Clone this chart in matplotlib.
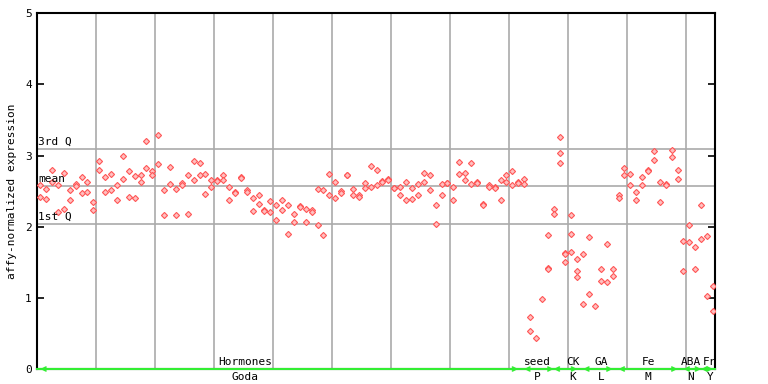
import matplotlib
matplotlib.use('Agg')
import matplotlib.pyplot as plt

# expression values per sample position (replicates)
values = [
    [2.58, 2.42], [2.53, 2.39], [2.80, 2.63], [2.58, 2.20], [2.75, 2.25],
    [2.51, 2.38], [2.60, 2.57], [2.70, 2.48], [2.63, 2.49], [2.35, 2.23],
    [2.93, 2.80], [2.70, 2.49], [2.74, 2.51], [2.58, 2.38], [2.99, 2.67],
    [2.79, 2.42], [2.71, 2.41], [2.72, 2.63], [3.21, 2.83], [2.79, 2.73],
    [3.29, 2.88], [2.52, 2.17], [2.84, 2.60], [2.53, 2.17], [2.61, 2.58],
    [2.73, 2.18], [2.93, 2.65], [2.90, 2.73], [2.74, 2.46], [2.65, 2.56],
    [2.65, 2.64], [2.73, 2.66], [2.56, 2.37], [2.49, 2.48], [2.70, 2.68],
    [2.52, 2.49], [2.41, 2.22], [2.45, 2.32], [2.24, 2.22], [2.36, 2.20],
    [2.30, 2.10], [2.37, 2.23], [2.30, 1.90], [2.18, 2.06], [2.29, 2.28],
    [2.25, 2.06], [2.23, 2.20], [2.53, 2.03], [2.52, 1.89], [2.74, 2.44],
    [2.63, 2.41], [2.50, 2.47], [2.73, 2.72], [2.53, 2.45], [2.45, 2.42],
    [2.62, 2.55], [2.86, 2.56], [2.80, 2.59], [2.64, 2.63], [2.67, 2.65],
    [2.55, 2.54], [2.56, 2.45], [2.63, 2.38], [2.55, 2.39], [2.60, 2.44],
    [2.76, 2.63], [2.73, 2.52], [2.30, 2.04], [2.60, 2.44], [2.62, 2.61],
    [2.56, 2.37], [2.91, 2.74], [2.76, 2.65], [2.90, 2.60], [2.63, 2.62],
    [2.32, 2.30], [2.59, 2.56], [2.56, 2.55], [2.65, 2.38], [2.72, 2.63],
    [2.79, 2.59], [2.63, 2.62], [2.67, 2.60], [0.73, 0.54], [0.44],
    [0.99], [1.89, 1.42, 1.41], [2.25, 2.18], [3.26, 3.04, 2.90], [1.63, 1.51, 1.62],
    [2.17, 1.90, 1.65], [1.55, 1.38, 1.29], [1.61, 0.92], [1.85, 1.06], [0.89],
    [1.41, 1.24], [1.76, 1.22], [1.40, 1.31], [2.45, 2.41], [2.83, 2.72],
    [2.74, 2.59], [2.49, 2.37], [2.70, 2.58], [2.80, 2.79], [3.07, 2.94],
    [2.63, 2.35], [2.60, 2.58], [3.08, 2.98], [2.80, 2.67], [1.80, 1.38],
    [2.03, 1.78], [1.72, 1.40], [2.30, 1.83], [1.87, 1.03], [1.16, 0.81],
]

q1 = 2.034
mean = 2.576
q3 = 3.095

# sections: (top label, bottom label, start idx, end idx, label position)
sections = [
    ('Hormones', 'Goda', 0, 81, 34.7),
    ('seed', 'P', 82, 87, 84.2),
    ('CK', 'K', 87, 91, 90.3),
    ('GA', 'L', 92, 97, 95.0),
    ('Fe', 'M', 98, 108, 103.0),
    ('ABA', 'N', 109, 112, 110.3),
    ('Fr', 'Y', 112, 114, 113.5),
]

plt.rcParams['font.family'] = 'DejaVu Sans Mono'
fig = plt.figure(figsize=(7.68, 3.84), dpi=100)
ax = fig.add_axes([37.3/768, 15/384, 678/768, 355.7/384])

xs = []
ys = []
for i, v in enumerate(values):
    for y in v:
        xs.append(i)
        ys.append(y)
ax.plot(xs, ys, linestyle='none', marker='D', markersize=3.1,
        mfc='#ffc0c0', mec='#ff5555', mew=0.8, zorder=3)

for g in range(9, 114, 10):
    ax.axvline(g + 0.5, color='#aaaaaa', lw=1.2, zorder=1)
for q in (q1, mean, q3):
    ax.axhline(q, color='#aaaaaa', lw=1.2, zorder=1)

ax.text(-0.4, q3 + 0.03, '3rd Q', fontsize=8, va='bottom', ha='left')
ax.text(-0.4, mean + 0.03, 'mean', fontsize=8, va='bottom', ha='left')
ax.text(-0.4, q1 + 0.03, '1st Q', fontsize=8, va='bottom', ha='left')

ax.set_xlim(-0.5, 114.4)
ax.set_ylim(0, 5)
ax.set_xticks([])
ax.set_yticks([0, 1, 2, 3, 4, 5])
ax.tick_params(axis='y', direction='in', length=5, width=1.2, labelsize=8,
               right=True, pad=4)
for s in ax.spines.values():
    s.set_linewidth(1.5)
ax.set_ylabel('affy-normalized expression', fontsize=8, labelpad=6)

ax.axhline(0, color='#33ee33', lw=1.5, zorder=4, clip_on=False)
for top, bottom, a, b, c in sections:
    ax.annotate('', xy=(a, 0), xytext=(b, 0),
                arrowprops=dict(arrowstyle='<->', color='#33ee33', lw=1.2,
                                mutation_scale=7, shrinkA=0, shrinkB=0),
                annotation_clip=False, zorder=5)
    ax.text(c, 0.03, top, fontsize=8, ha='center', va='bottom', zorder=6)
    ax.text(c, -0.04, bottom, fontsize=8, ha='center', va='top')

fig.savefig('out.png', dpi=100)
